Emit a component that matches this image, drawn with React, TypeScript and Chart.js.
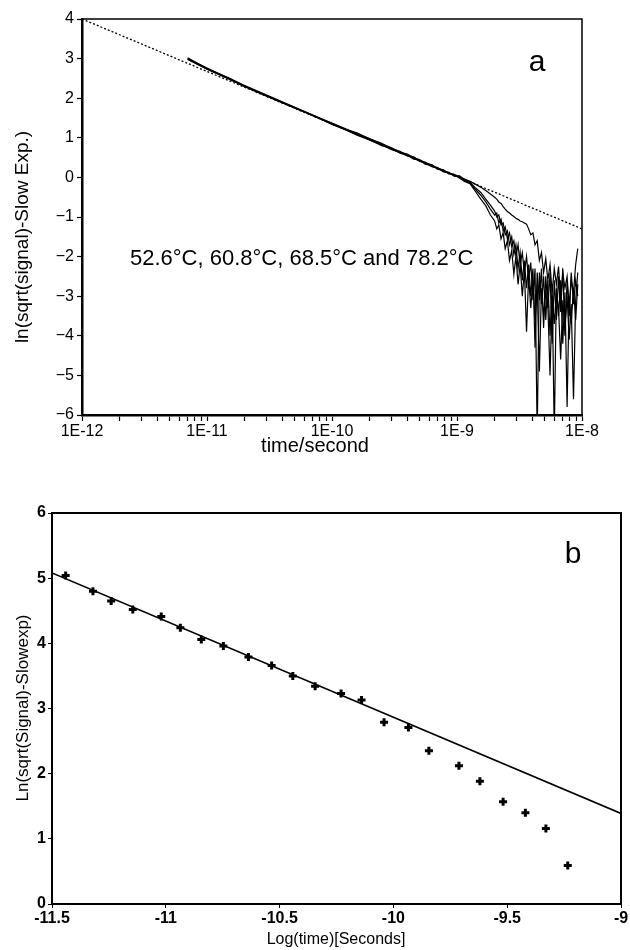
import React, { useEffect, useRef } from "react";
import { Chart, registerables } from "chart.js";

Chart.register(...registerables);

// ---------- Panel a data ----------
const timeSeconds = [
  7e-12, 1e-11, 1.5e-11, 2e-11, 3e-11, 4.5e-11, 6e-11, 8e-11, 1e-10, 1.3e-10, 1.6e-10, 2e-10,
  2.5e-10, 3e-10, 3.5e-10, 4e-10, 4.5e-10, 5e-10, 5.6e-10, 6.3e-10, 7e-10, 7.8e-10, 8.6e-10, 9.5e-10,
  1.05e-9, 1.15e-9, 1.27e-9, 1.4e-9, 1.55e-9, 1.7e-9, 1.85e-9,
  2.0e-9, 2.08e-9, 2.16e-9, 2.25e-9, 2.34e-9, 2.43e-9, 2.53e-9, 2.63e-9, 2.74e-9, 2.85e-9,
  2.96e-9, 3.08e-9, 3.2e-9, 3.33e-9, 3.46e-9, 3.6e-9, 3.74e-9, 3.89e-9, 4.05e-9, 4.21e-9,
  4.38e-9, 4.56e-9, 4.74e-9, 4.93e-9, 5.13e-9, 5.33e-9, 5.55e-9, 5.77e-9, 6.0e-9, 6.24e-9,
  6.49e-9, 6.75e-9, 7.02e-9, 7.3e-9, 7.6e-9, 7.9e-9, 8.2e-9, 8.55e-9, 8.9e-9, 9.25e-9,
];

const curve526 = [
  3.0, 2.76, 2.5, 2.31, 2.07, 1.83, 1.66, 1.49, 1.36, 1.21, 1.12, 0.97,
  0.86, 0.72, 0.66, 0.55, 0.52, 0.42, 0.38, 0.28, 0.25, 0.15, 0.13, 0.04,
  0.0, -0.04, -0.1, -0.17, -0.25, -0.33, -0.42,
  -0.5, -0.55, -0.62, -0.66, -0.74, -0.8, -0.86, -0.9, -0.95, -0.99,
  -1.03, -1.06, -1.1, -1.12, -1.15, -1.18, -1.3, -1.45, -1.4, -1.7,
  -1.6, -2.1, -1.9, -2.4, -2.05, -2.6, -2.2, -2.9, -2.3, -2.7,
  -2.25, -3.1, -2.4, -2.8, -2.5, -3.3, -2.6, -2.9, -2.2, -1.8,
];

const curve608 = [
  2.98, 2.73, 2.48, 2.3, 2.05, 1.82, 1.65, 1.48, 1.34, 1.2, 1.06, 0.95,
  0.8, 0.73, 0.61, 0.57, 0.46, 0.44, 0.33, 0.31, 0.2, 0.18, 0.09, 0.07,
  0.02, -0.08, -0.14, -0.3, -0.45, -0.62, -0.8,
  -0.95, -0.9, -1.15, -1.05, -1.35, -1.25, -1.55, -1.4, -1.75, -1.6,
  -2.0, -1.7, -2.2, -1.9, -2.4, -2.0, -2.6, -2.15, -3.1, -2.3,
  -6.5, -2.4, -3.2, -2.5, -3.6, -2.6, -4.0, -2.7, -6.5, -2.8,
  -3.5, -2.6, -4.2, -2.9, -5.8, -3.0, -3.7, -2.8, -3.6, -2.7,
];

const curve685 = [
  3.02, 2.75, 2.51, 2.32, 2.08, 1.84, 1.67, 1.5, 1.37, 1.22, 1.1, 0.98,
  0.84, 0.75, 0.64, 0.59, 0.5, 0.45, 0.37, 0.32, 0.22, 0.19, 0.1, 0.08,
  -0.02, -0.1, -0.16, -0.35, -0.55, -0.72, -0.95,
  -1.1, -1.3, -1.2, -1.55, -1.4, -1.8, -1.6, -2.1, -1.85, -2.45,
  -2.0, -2.7, -2.2, -3.0, -2.35, -3.9, -2.5, -3.3, -2.6, -3.6,
  -2.7, -4.9, -2.8, -3.5, -2.9, -3.2, -5.0, -3.0, -3.7, -2.9,
  -3.3, -4.6, -3.1, -3.8, -3.0, -4.1, -3.2, -5.6, -3.1, -2.4,
];

const curve782 = [
  2.99, 2.74, 2.49, 2.29, 2.06, 1.82, 1.65, 1.48, 1.35, 1.19, 1.08, 0.94,
  0.82, 0.7, 0.63, 0.54, 0.49, 0.41, 0.36, 0.27, 0.24, 0.14, 0.12, 0.03,
  0.04, -0.05, -0.12, -0.26, -0.38, -0.55, -0.7,
  -0.85, -1.0, -0.95, -1.2, -1.15, -1.45, -1.35, -1.7, -1.5, -1.95,
  -1.7, -2.3, -1.9, -2.6, -2.1, -2.8, -2.2, -3.0, -2.3, -4.3,
  -2.4, -3.1, -2.3, -3.8, -2.5, -3.3, -2.4, -4.2, -2.6, -3.6,
  -2.5, -3.4, -2.3, -4.0, -2.6, -3.5, -2.4, -3.2, -2.6, -3.0,
];

const dottedLineTimes = [1e-12, 1e-8];
const dottedLineValues = [4.0, -1.3];

const xMajorTicksA = [1e-12, 1e-11, 1e-10, 1e-9, 1e-8];
const xTickLabelsA = ["1E-12", "1E-11", "1E-10", "1E-9", "1E-8"];
const xMinorMultipliersA = [2, 3, 4, 5, 6, 7, 8, 9];

// ---------- Panel b data ----------
const logTimeB = [
  -11.44, -11.32, -11.24, -11.145, -11.02, -10.936, -10.844, -10.747, -10.637, -10.535, -10.442, -10.344,
  -10.23, -10.14, -10.041, -9.934, -9.844, -9.712, -9.62, -9.518, -9.42, -9.33, -9.234,
];
const lnSignalB = [
  5.04, 4.8, 4.65, 4.52, 4.41, 4.24, 4.06, 3.96, 3.79, 3.66, 3.5, 3.34,
  3.23, 3.13, 2.79, 2.71, 2.35, 2.12, 1.885, 1.57, 1.4, 1.16, 0.59,
];
const fitLogTimeB = [-11.5, -9];
const fitValuesB = [5.08, 1.39];

const FONT = "'Liberation Sans', Arial, Helvetica, sans-serif";

const pairs = (xs: number[], ys: number[]) => xs.map((x, i) => ({ x, y: ys[i] }));

type TextItem = { text: string; x: number; y: number; size: number; weight?: string; rotate?: boolean; align?: CanvasTextAlign };

const framePlugin = (frameWidth: number, texts: TextItem[]) => ({
  id: "frameAndTexts",
  afterDraw(chart: any) {
    const { ctx, chartArea } = chart;
    const { left, top, right, bottom } = chartArea;
    ctx.save();
    ctx.strokeStyle = "#000";
    ctx.lineWidth = frameWidth;
    ctx.beginPath();
    ctx.moveTo(left, top);
    ctx.lineTo(right, top);
    ctx.lineTo(right, bottom);
    ctx.stroke();
    ctx.fillStyle = "#000";
    for (const t of texts) {
      ctx.font = `${t.weight || "normal"} ${t.size}px ${FONT}`;
      ctx.textAlign = t.align || "center";
      ctx.textBaseline = "middle";
      if (t.rotate) {
        ctx.save();
        ctx.translate(t.x, t.y);
        ctx.rotate(-Math.PI / 2);
        ctx.fillText(t.text, 0, 0);
        ctx.restore();
      } else {
        ctx.fillText(t.text, t.x, t.y);
      }
    }
    ctx.restore();
  },
});

const minusLabel = (v: number) => (v < 0 ? "\u2212" + Math.abs(v) : String(v));

function PanelA() {
  const ref = useRef<HTMLCanvasElement>(null);
  useEffect(() => {
    if (!ref.current) return;
    const lineStyle = { borderColor: "#000", borderWidth: 1.2, pointRadius: 0, showLine: true, tension: 0 };
    const chart = new Chart(ref.current, {
      type: "scatter",
      data: {
        datasets: [
          { label: "dotted", data: pairs(dottedLineTimes, dottedLineValues), borderColor: "#000", borderWidth: 1.3, borderDash: [2, 2], pointRadius: 0, showLine: true },
          { label: "52.6°C", data: pairs(timeSeconds, curve526), ...lineStyle },
          { label: "60.8°C", data: pairs(timeSeconds, curve608), ...lineStyle },
          { label: "68.5°C", data: pairs(timeSeconds, curve685), ...lineStyle },
          { label: "78.2°C", data: pairs(timeSeconds, curve782), ...lineStyle },
        ],
      },
      options: {
        responsive: false,
        animation: false,
        layout: { padding: { top: 19, right: 48, left: 0, bottom: 0 } },
        plugins: { legend: { display: false }, tooltip: { enabled: false } },
        scales: {
          x: {
            type: "logarithmic",
            min: 1e-12,
            max: 1e-8,
            afterFit: (s: any) => { s.height = 55; },
            afterBuildTicks: (s: any) => {
              const vals: number[] = [];
              xMajorTicksA.forEach((m, i) => {
                vals.push(m);
                if (i < xMajorTicksA.length - 1) xMinorMultipliersA.forEach((k) => vals.push(m * k));
              });
              s.ticks = vals.map((value) => ({ value }));
            },
            grid: { drawOnChartArea: false, drawTicks: true, tickLength: 6, tickColor: "#000", tickWidth: 1.2 },
            border: { display: true, color: "#000", width: 2.5 },
            ticks: {
              autoSkip: false,
              maxRotation: 0,
              padding: 1,
              color: "#000",
              font: { family: FONT, size: 16 },
              callback: (v: any) => {
                const idx = xMajorTicksA.findIndex((m) => Math.abs(Number(v) / m - 1) < 1e-6);
                return idx >= 0 ? xTickLabelsA[idx] : "";
              },
            },
          },
          y: {
            min: -6,
            max: 4,
            afterFit: (s: any) => { s.width = 82; },
            grid: { drawOnChartArea: false, drawTicks: true, tickLength: 5, tickColor: "#000", tickWidth: 1.2 },
            border: { display: true, color: "#000", width: 2.5 },
            ticks: { stepSize: 1, padding: 3, color: "#000", font: { family: FONT, size: 16 }, callback: (v: any) => minusLabel(Number(v)) },
          },
        },
      },
      plugins: [
        framePlugin(1.5, [
          { text: "a", x: 537, y: 63, size: 30 },
          { text: "52.6°C, 60.8°C, 68.5°C and 78.2°C", x: 130, y: 259, size: 22, align: "left" },
          { text: "time/second", x: 315, y: 446, size: 20 },
          { text: "ln(sqrt(signal)-Slow Exp.)", x: 23, y: 237, size: 19, rotate: true },
        ]),
      ],
    } as any);
    return () => chart.destroy();
  }, []);
  return <canvas ref={ref} width={630} height={470} style={{ display: "block", position: "absolute", left: 0, top: 0 }} />;
}

function PanelB() {
  const ref = useRef<HTMLCanvasElement>(null);
  useEffect(() => {
    if (!ref.current) return;
    const chart = new Chart(ref.current, {
      type: "scatter",
      data: {
        datasets: [
          { label: "fit", data: pairs(fitLogTimeB, fitValuesB), borderColor: "#000", borderWidth: 1.6, pointRadius: 0, showLine: true },
          { label: "data", data: pairs(logTimeB, lnSignalB), pointStyle: "cross", pointRadius: 4, borderColor: "#000", borderWidth: 3, backgroundColor: "#000" },
        ],
      },
      options: {
        responsive: false,
        animation: false,
        layout: { padding: { top: 43, right: 9, left: 0, bottom: 0 } },
        plugins: { legend: { display: false }, tooltip: { enabled: false } },
        scales: {
          x: {
            type: "linear",
            min: -11.5,
            max: -9,
            afterFit: (s: any) => { s.height = 46; },
            grid: { drawOnChartArea: false, drawTicks: true, tickLength: 4, tickColor: "#000" },
            border: { display: true, color: "#000", width: 2 },
            ticks: {
              stepSize: 0.5,
              padding: 1,
              color: "#000",
              font: { family: FONT, size: 16, weight: "bold" },
              callback: (v: any) => String(Number(v)),
            },
          },
          y: {
            min: 0,
            max: 6,
            afterFit: (s: any) => { s.width = 52; },
            grid: { drawOnChartArea: false, drawTicks: true, tickLength: 4, tickColor: "#000" },
            border: { display: true, color: "#000", width: 2 },
            ticks: { stepSize: 1, padding: 2, color: "#000", font: { family: FONT, size: 16, weight: "bold" } },
          },
        },
      },
      plugins: [
        framePlugin(2, [
          { text: "b", x: 573, y: 85, size: 30 },
          { text: "Log(time)[Seconds]", x: 336, y: 470, size: 16 },
          { text: "Ln(sqrt(Signal)-Slowexp)", x: 23, y: 238, size: 17, rotate: true },
        ]),
      ],
    } as any);
    return () => chart.destroy();
  }, []);
  return <canvas ref={ref} width={630} height={480} style={{ display: "block", position: "absolute", left: 0, top: 470 }} />;
}

export default function App() {
  return (
    <div style={{ position: "absolute", left: 0, top: 0, width: 630, height: 950, background: "#fff" }}>
      <PanelA />
      <PanelB />
    </div>
  );
}
